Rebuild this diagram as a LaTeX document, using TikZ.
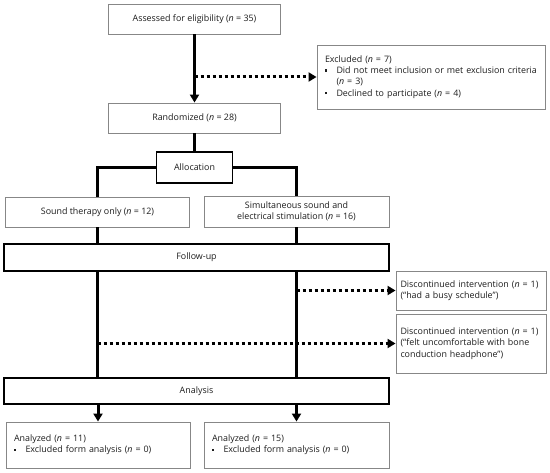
\documentclass[tikz,border=0pt]{standalone}
\usepackage{fontspec}
\setmainfont{Open Sans}
\usetikzlibrary{arrows.meta}
\definecolor{boxgray}{RGB}{135,135,135}
\definecolor{txt}{RGB}{30,30,30}
\newcommand{\sqb}{\makebox[11.5pt][l]{\rule[2pt]{2.4pt}{2.4pt}}}
\tikzset{
  thinbox/.style={draw=boxgray, line width=0.9pt, fill=white, inner sep=0pt, text=txt, align=center},
  thickbox/.style={draw=black, line width=1.8pt, fill=white, inner sep=0pt, text=txt, align=center},
  leftbox/.style={thinbox, align=left},
  flow/.style={line width=3pt},
  flowarrow/.style={line width=3pt, -{Triangle[length=8pt,width=9pt]}},
  dotarrow/.style={line width=3pt, dash pattern=on 3pt off 3pt, -{Triangle[length=8pt,width=9pt]}},
}
\begin{document}
\begin{tikzpicture}[x=1pt, y=-1pt, font=\fontsize{8.9}{11.2}\selectfont]
\useasboundingbox (0,0) rectangle (550,473);
% nodes
\node[thinbox, minimum width=172pt, minimum height=30pt] (assess) at (194.5,19) {Assessed for eligibility (\textit{n} = 35)};
\node[leftbox, minimum width=228pt, minimum height=64pt, text width=212pt] (excl) at (431,77) {Excluded (\textit{n} = 7)\\
\sqb Did not meet inclusion or met exclusion criteria\\
\hspace*{11.5pt}(\textit{n} = 3)\\
\sqb Declined to participate (\textit{n} = 4)};
\node[thinbox, minimum width=172pt, minimum height=30pt] (rand) at (194.5,118) {Randomized (\textit{n} = 28)};
\node[thickbox, minimum width=76pt, minimum height=31pt] (alloc) at (194.5,167.5) {Allocation};
\node[thinbox, minimum width=184pt, minimum height=30pt] (sound) at (97.5,212) {Sound therapy only (\textit{n} = 12)};
\node[thinbox, minimum width=185pt, minimum height=31pt] (sim) at (296.5,211.5) {Simultaneous sound and\\electrical stimulation (\textit{n} = 16)};
\node[thickbox, minimum width=385pt, minimum height=27pt] (follow) at (196.5,257.5) {Follow-up};
\node[leftbox, minimum width=150pt, minimum height=39pt, text width=141pt] (d1) at (471,290.5) {Discontinued intervention (\textit{n} = 1)\\(“had a busy schedule”)};
\node[leftbox, minimum width=150pt, minimum height=59pt, text width=141pt] (d2) at (471,343.5) {Discontinued intervention (\textit{n} = 1)\\(“felt uncomfortable with bone\\conduction headphone”)};
\node[thickbox, minimum width=385pt, minimum height=26pt] (analysis) at (196.5,391) {Analysis};
\node[leftbox, minimum width=184pt, minimum height=46pt, text width=168pt] (an1) at (98,445) {Analyzed (\textit{n} = 11)\\\sqb Excluded form analysis (\textit{n} = 0)};
\node[leftbox, minimum width=185pt, minimum height=46pt, text width=169pt] (an2) at (296.5,445) {Analyzed (\textit{n} = 15)\\\sqb Excluded form analysis (\textit{n} = 0)};
% connectors
\draw[flowarrow] (assess.south) -- (rand.north);
\draw[dotarrow] (assess.south |- excl.west) -- (excl.west);
\draw[flow] (rand.south) -- (alloc.north);
\draw[flow] (alloc.west) -| (sound.north);
\draw[flow] (alloc.east) -| (sim.north);
\draw[flow] (sound.south) -- (follow.north -| sound.south);
\draw[flow] (sim.south) -- (follow.north -| sim.south);
\draw[flow] (follow.south -| sound.south) -- (analysis.north -| sound.south);
\draw[flow] (follow.south -| sim.south) -- (analysis.north -| sim.south);
\draw[dotarrow] (sim.south |- d1.west) -- (d1.west);
\draw[dotarrow] (sound.south |- d2.west) -- (d2.west);
\draw[flowarrow] (analysis.south -| an1.north) -- (an1.north);
\draw[flowarrow] (analysis.south -| an2.north) -- (an2.north);
\end{tikzpicture}
\end{document}
